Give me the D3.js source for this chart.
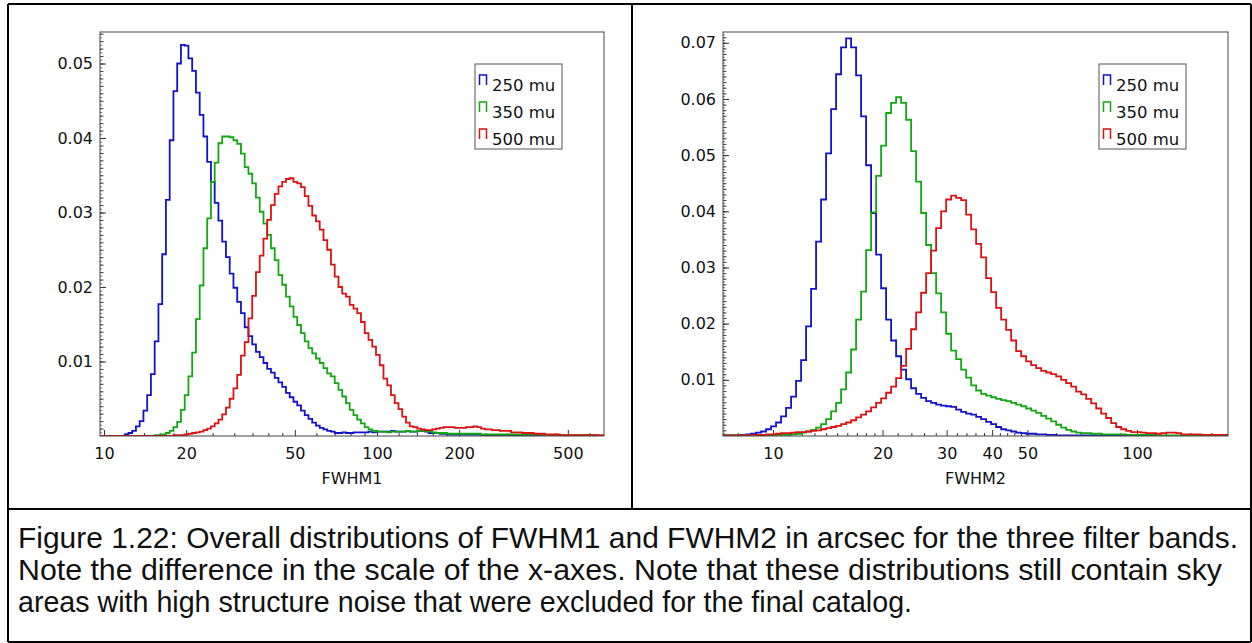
<!DOCTYPE html>
<html>
<head>
<meta charset="utf-8">
<script src="https://cdn.jsdelivr.net/npm/d3@7"></script>
<style>
  body { margin: 0; background: #fff; }
  .axis text, .xlabel { font-family: "DejaVu Sans", sans-serif; font-size: 16px; fill: #111; }
  .legend text { font-family: "DejaVu Sans", sans-serif; font-size: 16.5px; fill: #111; }
  .caption { font-family: "Liberation Sans", Arial, sans-serif; font-size: 29px; fill: #111; }
</style>
</head>
<body>
<svg id="fig" width="1252" height="643"></svg>
<script>
// histogram bins are log spaced, same factor in both panels
const binLogWidth = 0.01374;
const bandNames = ["250 mu", "350 mu", "500 mu"];
const bandColors = ["#1212cc", "#12a812", "#dd1111"];

// FWHM1 panel, bins start at 9.54
const fwhm1Start = 9.54;
const fwhm1Blue = [0,0,0,0,0,0,0,
  0.0002,0.0004,0.0007,0.0013,0.0020,0.0034,0.0055,0.0083,0.0127,0.0177,0.0244,0.0317,0.0397,0.0463,0.0500,0.0525,
  0.0524,0.0507,0.0490,0.0461,0.0431,0.0402,0.0368,0.0341,0.0313,0.0289,0.0261,0.0240,0.0218,0.0199,0.0180,0.0165,0.0146,0.0134,0.0123,0.0113,
  0.0106,0.0098,0.0090,0.0085,0.0078,0.0072,0.0066,0.0058,0.0052,0.0046,0.0041,0.0034,0.0028,0.0023,0.0018,0.0014,0.0011,0.0009,0.0007,0.0006,
  0.0004,0.0004,0.0005,0.0004,0.0004,0.0005,0.0005,
  0.0005,0.0005,0.0006,0.0005,0.0006,
  0.0006,0.0006,0.0006,0.0007,0.0006,0.0006,0.0006,0.0007,0.0006,0.0006,
  0.0007,0.0007,0.0006,
  0.0004,0.0004,0.0004,0.0003,0.0003,
  0.0002,0.0002,0.0002,0.0002,0.0002,0.0002,0.0002,0.0002,0.0002,
  0.0001,0.0001,0.0001,0.0001,
  0,0,0,0,0,0,0,0,0,0,0,0,0,0,0,0,0,0,0,0,0,0,0,0,0,0,0,0,0];
const fwhm1Green = [0,0,0,0,0,0,0,0,0,0,0,0,0,0,0,
  0.0001,0.0001,0.0002,0.0004,0.0007,0.0012,0.0019,0.0035,0.0055,0.0080,0.0112,0.0157,0.0202,0.0252,0.0292,0.0341,0.0367,0.0393,0.0402,0.0402,
  0.0401,0.0397,0.0392,0.0379,0.0361,0.0352,0.0339,0.0320,0.0301,0.0285,0.0270,0.0252,0.0236,0.0216,0.0203,0.0187,0.0174,0.0160,0.0149,0.0138,
  0.0127,0.0118,0.0111,0.0104,0.0098,0.0091,0.0084,0.0080,0.0071,0.0062,0.0053,0.0044,0.0035,0.0028,0.0022,0.0017,0.0012,0.0009,0.0007,
  0.0006,0.0006,0.0006,0.0005,0.0006,0.0006,0.0006,0.0006,0.0007,0.0006,0.0006,
  0.0007,0.0007,0.0007,0.0006,
  0.0005,0.0004,0.0004,0.0004,
  0.0003,0.0003,0.0003,0.0003,0.0003,0.0003,0.0003,0.0003,0.0003,
  0.0002,0.0002,0.0002,0.0002,0.0002,0.0002,0.0002,0.0002,0.0002,0.0002,0.0002,0.0002,0.0002,0.0002,0.0002,0.0002,
  0.0001,0.0001,0.0001,0.0001,0.0001,0.0001,0.0001,0.0001,0.0001,0.0001,0.0001,0.0001,0.0001,0.0001,0.0001,
  0,0];
const fwhm1Red = [0,0,0,0,0,0,0,0,0,0,0,0,0,0,0,0,0,0,0,0,
  0.0001,0.0001,0.0001,0.0002,0.0003,0.0004,0.0005,0.0006,0.0008,0.0010,0.0013,0.0017,0.0022,0.0029,0.0038,0.0050,0.0064,0.0082,0.0108,0.0126,
  0.0158,0.0188,0.0220,0.0242,0.0265,0.0290,0.0310,0.0325,0.0335,0.0341,0.0345,0.0346,0.0341,0.0339,0.0334,0.0322,0.0309,0.0296,0.0288,0.0277,
  0.0263,0.0250,0.0230,0.0214,0.0200,0.0191,0.0187,0.0176,0.0171,0.0165,0.0153,0.0138,0.0129,0.0120,0.0109,0.0095,0.0077,0.0068,0.0055,0.0044,
  0.0036,0.0026,0.0018,0.0013,0.0012,0.0010,0.0009,0.0008,0.0008,0.0009,0.0010,0.0011,0.0012,0.0012,0.0012,0.0011,0.0011,0.0011,0.0012,0.0012,0.0013,0.0012,
  0.0010,0.0009,0.0009,0.0008,0.0008,0.0007,0.0007,0.0007,0.0005,0.0005,0.0005,0.0004,0.0004,0.0004,0.0003,0.0003,0.0003,0.0002,0.0002,0.0002,0.0002,
  0.0001,0.0001,0.0001,0.0001,0.0001,0.0001,0.0001,0.0001,0.0001,0.0001,0.0001,0.0001];
const fwhm1Ticks = [10, 20, 50, 100, 200, 500];
const fwhm1Minor = [12, 14, 16, 18, 25, 30, 35, 40, 45, 60, 70, 80, 90, 120, 140, 160, 180, 250, 300, 350, 400, 450, 600];
const fwhm1YTicks = [0.01, 0.02, 0.03, 0.04, 0.05];

// FWHM2 panel, bins start at 7.2
const fwhm2Start = 7.2;
const fwhm2Blue = [0.0001,0.0001,0.0001,0.0001,0.0002,0.0003,0.0004,0.0006,0.0008,0.0012,0.0017,0.0024,0.0035,
  0.0050,0.0070,0.0098,0.0135,0.0195,0.0262,0.0346,0.0421,0.0503,0.0582,0.0644,0.0692,0.0708,0.0692,0.0642,0.0569,0.0482,0.0397,0.0323,0.0263,
  0.0207,0.0170,0.0142,0.0118,0.0101,0.0085,0.0075,0.0068,0.0062,0.0059,0.0056,0.0054,0.0053,0.0052,0.0047,0.0043,0.0040,0.0038,0.0034,0.0030,
  0.0025,0.0021,0.0016,0.0012,0.0010,0.0008,0.0006,0.0005,0.0004,0.0004,0.0003,0.0003,0.0002,0.0002,
  0.0001,0.0001,0.0001,0.0001,0.0001,0.0001,0.0001,0.0001,
  0,0,0,0,0,0,0,0,0,0,0,0,0,0,0,0,0,0,0,0,0,0,0,0,0,0,0];
const fwhm2Green = [0.0001,0.0001,0.0001,0.0001,0.0001,0.0001,0.0001,0.0001,0.0001,0.0001,0.0001,0.0002,0.0002,0.0002,
  0.0003,0.0004,0.0006,0.0008,0.0011,0.0015,0.0021,0.0030,0.0044,0.0059,0.0083,0.0113,0.0154,0.0207,0.0257,0.0331,0.0398,0.0463,0.0517,0.0575,
  0.0593,0.0603,0.0593,0.0563,0.0507,0.0453,0.0397,0.0340,0.0290,0.0254,0.0220,0.0182,0.0152,0.0137,0.0118,0.0104,0.0090,0.0081,0.0075,0.0072,
  0.0069,0.0066,0.0064,0.0062,0.0059,0.0056,0.0053,0.0049,0.0045,0.0041,0.0036,0.0031,0.0026,0.0020,0.0015,0.0011,0.0008,0.0006,0.0005,0.0005,0.0004,0.0004,
  0.0003,0.0003,0.0003,0.0003,0.0003,
  0.0002,0.0002,0.0002,0.0002,0.0002,0.0002,
  0.0001,0.0001,0.0001,0.0001,0.0001,0.0001,0.0001,0.0001,0.0001,
  0,0,0,0,0,0];
const fwhm2Red = [0.0001,0.0001,0.0001,0.0001,0.0001,0.0001,0.0002,0.0002,0.0002,0.0003,0.0003,0.0004,0.0005,0.0005,
  0.0006,0.0007,0.0007,0.0008,0.0009,0.0010,0.0012,0.0014,0.0016,0.0018,0.0021,0.0024,0.0028,0.0033,0.0038,0.0044,0.0051,0.0059,0.0067,0.0077,
  0.0088,0.0103,0.0125,0.0155,0.0190,0.0220,0.0255,0.0290,0.0330,0.0370,0.0400,0.0421,0.0428,0.0424,0.0420,0.0394,0.0368,0.0342,0.0318,0.0281,
  0.0256,0.0228,0.0207,0.0189,0.0170,0.0151,0.0142,0.0133,0.0126,0.0121,0.0116,0.0113,0.0110,0.0106,0.0100,0.0094,0.0088,0.0079,0.0074,0.0066,
  0.0058,0.0049,0.0040,0.0032,0.0023,0.0016,0.0012,0.0009,0.0007,0.0007,0.0006,0.0005,0.0005,0.0004,0.0005,0.0006,0.0006,0.0005,0.0003,0.0003,0.0003,0.0003,
  0.0002,0.0002,0.0002,0.0002,0.0002,0.0002];
const fwhm2Ticks = [10, 20, 30, 40, 50, 100];
const fwhm2Minor = [8, 9, 11, 12, 13, 14, 15, 16, 17, 18, 19, 22, 24, 26, 28, 32, 34, 36, 38, 42, 44, 46, 48, 60, 70, 80, 90, 120, 140, 160];
const fwhm2YTicks = [0.01, 0.02, 0.03, 0.04, 0.05, 0.06, 0.07];

const captionLines = [
  "Figure 1.22: Overall distributions of FWHM1 and FWHM2 in arcsec for the three filter bands.",
  "Note the difference in the scale of the x-axes. Note that these distributions still contain sky",
  "areas with high structure noise that were excluded for the final catalog."
];
// rendered widths of the caption lines, in pixels
const captionWidths = [1220, 1204, 894];

const svg = d3.select("#fig");

const histPlot = (series, start, xDomain, yMax, xTicks, xMinor, yTicks, xLabel, box, id) => {
  const xScale = d3.scaleLog().domain(xDomain).range([box.left, box.right]);
  const yScale = d3.scaleLinear().domain([0, yMax]).range([box.bottom, box.top]);
  const g = svg.append("g");

  g.append("clipPath").attr("id", id)
    .append("rect")
    .attr("x", box.left).attr("y", box.top - 2)
    .attr("width", box.right - box.left).attr("height", box.bottom - box.top + 2);

  //y minor ticks
  const yFine = d3.range(0.0005, yMax, 0.0005);
  g.append("g")
    .attr("class", "axis")
    .attr("transform", "translate(" + box.left + ",0)")
    .call(d3.axisLeft(yScale).tickValues(yFine).tickSize(-2).tickFormat(""))
    .call(a => a.select(".domain").remove())
    .call(a => a.selectAll("line").attr("stroke", "#444").attr("stroke-width", 0.8));
  g.append("g")
    .attr("class", "axis")
    .attr("transform", "translate(" + box.left + ",0)")
    .call(d3.axisLeft(yScale).tickValues(yFine.filter((d, i) => i % 2 == 1)).tickSize(-3.5).tickFormat(""))
    .call(a => a.select(".domain").remove())
    .call(a => a.selectAll("line").attr("stroke", "#444"));
  //y major
  g.append("g")
    .attr("class", "axis")
    .attr("transform", "translate(" + box.left + ",0)")
    .call(d3.axisLeft(yScale).tickValues(yTicks).tickSize(-6).tickPadding(7).tickFormat(d3.format(".2f")))
    .call(a => a.select(".domain").remove())
    .call(a => a.selectAll("line").attr("stroke", "#333"));

  //x ticks
  g.append("g")
    .attr("class", "axis")
    .attr("transform", "translate(0," + box.bottom + ")")
    .call(d3.axisBottom(xScale).tickValues(xMinor).tickSize(-3).tickFormat(""))
    .call(a => a.select(".domain").remove())
    .call(a => a.selectAll("line").attr("stroke", "#333"));
  g.append("g")
    .attr("class", "axis")
    .attr("transform", "translate(0," + box.bottom + ")")
    .call(d3.axisBottom(xScale).tickValues(xTicks).tickSize(-6).tickPadding(12).tickFormat(d3.format("d")))
    .call(a => a.select(".domain").remove())
    .call(a => a.selectAll("line").attr("stroke", "#333"));

  //histogram outlines
  const step = d3.line()
    .x(d => xScale(d[0]))
    .y(d => yScale(d[1]))
    .curve(d3.curveStepAfter);
  series.forEach((vals, k) => {
    const pts = vals.map((v, j) => [start * Math.pow(10, binLogWidth * j), v]);
    pts.push([start * Math.pow(10, binLogWidth * vals.length), vals[vals.length - 1]]);
    g.append("path")
      .datum(pts)
      .attr("clip-path", "url(#" + id + ")")
      .attr("fill", "none")
      .attr("stroke", bandColors[k])
      .attr("stroke-width", 1.8)
      .attr("d", step);
  });

  //frame
  g.append("rect")
    .attr("x", box.left).attr("y", box.top)
    .attr("width", box.right - box.left).attr("height", box.bottom - box.top)
    .attr("fill", "none").attr("stroke", "#444").attr("stroke-width", 1);

  g.append("text")
    .attr("class", "xlabel")
    .attr("x", (box.left + box.right) / 2)
    .attr("y", box.bottom + 48)
    .attr("text-anchor", "middle")
    .text(xLabel);

  //legend
  const lx = box.right - 129, ly = 64;
  const leg = g.append("g").attr("class", "legend");
  leg.append("rect")
    .attr("x", lx).attr("y", ly).attr("width", 87).attr("height", 85)
    .attr("fill", "#fff").attr("stroke", "#555").attr("stroke-width", 1);
  bandNames.forEach((name, k) => {
    const by = ly + 27 + 27 * k;
    leg.append("path")
      .attr("d", "M" + (lx + 4.5) + "," + (by - 6) + "V" + (by - 16) + "H" + (lx + 11.5) + "V" + (by - 6))
      .attr("fill", "none").attr("stroke", bandColors[k]).attr("stroke-width", 1.5);
    leg.append("text")
      .attr("x", lx + 17).attr("y", by)
      .text(name);
  });
};

histPlot([fwhm1Blue, fwhm1Green, fwhm1Red], fwhm1Start, [9.668, 678.5], 0.05423,
  fwhm1Ticks, fwhm1Minor, fwhm1YTicks, "FWHM1", {left: 100, right: 604, top: 32, bottom: 436}, "clip1");
histPlot([fwhm2Blue, fwhm2Green, fwhm2Red], fwhm2Start, [7.29, 177.8], 0.07192,
  fwhm2Ticks, fwhm2Minor, fwhm2YTicks, "FWHM2", {left: 723, right: 1228, top: 32, bottom: 436}, "clip2");

//table borders
const borders = [[8, 4, 1251, 4], [8, 4, 8, 642], [1251, 4, 1251, 642], [8, 642, 1251, 642], [632, 4, 632, 509], [8, 509, 1251, 509]];
svg.selectAll(".border").data(borders).join("line")
  .attr("class", "border")
  .attr("x1", d => d[0]).attr("y1", d => d[1]).attr("x2", d => d[2]).attr("y2", d => d[3])
  .attr("stroke", "#000").attr("stroke-width", 2);

svg.selectAll(".caption").data(captionLines).join("text")
  .attr("class", "caption")
  .attr("x", 18)
  .attr("y", (d, i) => 548 + 32 * i)
  .attr("textLength", (d, i) => captionWidths[i])
  .attr("lengthAdjust", "spacingAndGlyphs")
  .text(d => d);
</script>
</body>
</html>
